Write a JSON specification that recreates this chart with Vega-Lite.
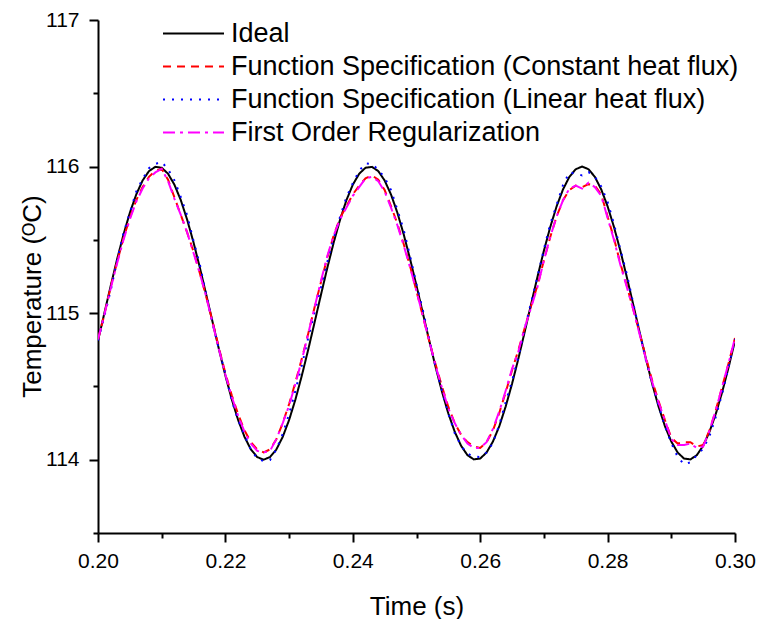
{
"$schema": "https://vega.github.io/schema/vega-lite/v6.json",
"width": 637, "height": 513,
"autosize": {"type": "none"},
"padding": {"left": 98, "top": 20, "right": 26, "bottom": 86},
"background": "white",
"config": {"view": {"stroke": null}, "font": "Liberation Sans"},
"data": {"values": [
{"s":"a","t":0.200,"v":114.813},{"s":"a","t":0.201,"v":115.000},{"s":"a","t":0.202,"v":115.187},{"s":"a","t":0.203,"v":115.368},{"s":"a","t":0.204,"v":115.536},{"s":"a","t":0.205,"v":115.685},{"s":"a","t":0.206,"v":115.809},{"s":"a","t":0.207,"v":115.905},{"s":"a","t":0.208,"v":115.969},{"s":"a","t":0.209,"v":115.998},
{"s":"a","t":0.210,"v":115.992},{"s":"a","t":0.211,"v":115.951},{"s":"a","t":0.212,"v":115.876},{"s":"a","t":0.213,"v":115.771},{"s":"a","t":0.214,"v":115.637},{"s":"a","t":0.215,"v":115.482},{"s":"a","t":0.216,"v":115.309},{"s":"a","t":0.217,"v":115.125},{"s":"a","t":0.218,"v":114.937},{"s":"a","t":0.219,"v":114.751},
{"s":"a","t":0.220,"v":114.574},{"s":"a","t":0.221,"v":114.412},{"s":"a","t":0.222,"v":114.271},{"s":"a","t":0.223,"v":114.156},{"s":"a","t":0.224,"v":114.070},{"s":"a","t":0.225,"v":114.018},{"s":"a","t":0.226,"v":114.000},{"s":"a","t":0.227,"v":114.018},{"s":"a","t":0.228,"v":114.070},{"s":"a","t":0.229,"v":114.156},
{"s":"a","t":0.230,"v":114.271},{"s":"a","t":0.231,"v":114.412},{"s":"a","t":0.232,"v":114.574},{"s":"a","t":0.233,"v":114.751},{"s":"a","t":0.234,"v":114.937},{"s":"a","t":0.235,"v":115.125},{"s":"a","t":0.236,"v":115.309},{"s":"a","t":0.237,"v":115.482},{"s":"a","t":0.238,"v":115.637},{"s":"a","t":0.239,"v":115.771},
{"s":"a","t":0.240,"v":115.876},{"s":"a","t":0.241,"v":115.951},{"s":"a","t":0.242,"v":115.992},{"s":"a","t":0.243,"v":115.998},{"s":"a","t":0.244,"v":115.969},{"s":"a","t":0.245,"v":115.905},{"s":"a","t":0.246,"v":115.809},{"s":"a","t":0.247,"v":115.685},{"s":"a","t":0.248,"v":115.536},{"s":"a","t":0.249,"v":115.368},
{"s":"a","t":0.250,"v":115.187},{"s":"a","t":0.251,"v":115.000},{"s":"a","t":0.252,"v":114.813},{"s":"a","t":0.253,"v":114.632},{"s":"a","t":0.254,"v":114.464},{"s":"a","t":0.255,"v":114.315},{"s":"a","t":0.256,"v":114.191},{"s":"a","t":0.257,"v":114.095},{"s":"a","t":0.258,"v":114.031},{"s":"a","t":0.259,"v":114.002},
{"s":"a","t":0.260,"v":114.008},{"s":"a","t":0.261,"v":114.049},{"s":"a","t":0.262,"v":114.124},{"s":"a","t":0.263,"v":114.229},{"s":"a","t":0.264,"v":114.363},{"s":"a","t":0.265,"v":114.518},{"s":"a","t":0.266,"v":114.691},{"s":"a","t":0.267,"v":114.875},{"s":"a","t":0.268,"v":115.063},{"s":"a","t":0.269,"v":115.249},
{"s":"a","t":0.270,"v":115.426},{"s":"a","t":0.271,"v":115.588},{"s":"a","t":0.272,"v":115.729},{"s":"a","t":0.273,"v":115.844},{"s":"a","t":0.274,"v":115.930},{"s":"a","t":0.275,"v":115.982},{"s":"a","t":0.276,"v":116.000},{"s":"a","t":0.277,"v":115.982},{"s":"a","t":0.278,"v":115.930},{"s":"a","t":0.279,"v":115.844},
{"s":"a","t":0.280,"v":115.729},{"s":"a","t":0.281,"v":115.588},{"s":"a","t":0.282,"v":115.426},{"s":"a","t":0.283,"v":115.249},{"s":"a","t":0.284,"v":115.063},{"s":"a","t":0.285,"v":114.875},{"s":"a","t":0.286,"v":114.691},{"s":"a","t":0.287,"v":114.518},{"s":"a","t":0.288,"v":114.363},{"s":"a","t":0.289,"v":114.229},
{"s":"a","t":0.290,"v":114.124},{"s":"a","t":0.291,"v":114.049},{"s":"a","t":0.292,"v":114.008},{"s":"a","t":0.293,"v":114.002},{"s":"a","t":0.294,"v":114.031},{"s":"a","t":0.295,"v":114.095},{"s":"a","t":0.296,"v":114.191},{"s":"a","t":0.297,"v":114.315},{"s":"a","t":0.298,"v":114.464},{"s":"a","t":0.299,"v":114.632},
{"s":"a","t":0.300,"v":114.813},

{"s":"b","t":0.200,"v":114.82},{"s":"b","t":0.201,"v":114.99},{"s":"b","t":0.202,"v":115.18},{"s":"b","t":0.203,"v":115.35},{"s":"b","t":0.204,"v":115.51},{"s":"b","t":0.205,"v":115.65},{"s":"b","t":0.206,"v":115.77},{"s":"b","t":0.207,"v":115.86},{"s":"b","t":0.208,"v":115.93},{"s":"b","t":0.209,"v":115.97},
{"s":"b","t":0.210,"v":115.985},{"s":"b","t":0.211,"v":115.91},{"s":"b","t":0.212,"v":115.79},{"s":"b","t":0.213,"v":115.67},{"s":"b","t":0.214,"v":115.55},{"s":"b","t":0.215,"v":115.42},{"s":"b","t":0.216,"v":115.27},{"s":"b","t":0.217,"v":115.11},{"s":"b","t":0.218,"v":114.94},{"s":"b","t":0.219,"v":114.76},
{"s":"b","t":0.220,"v":114.59},{"s":"b","t":0.221,"v":114.44},{"s":"b","t":0.222,"v":114.31},{"s":"b","t":0.223,"v":114.20},{"s":"b","t":0.224,"v":114.12},{"s":"b","t":0.225,"v":114.07},{"s":"b","t":0.226,"v":114.05},{"s":"b","t":0.227,"v":114.07},{"s":"b","t":0.228,"v":114.14},{"s":"b","t":0.229,"v":114.25},
{"s":"b","t":0.230,"v":114.38},{"s":"b","t":0.231,"v":114.53},{"s":"b","t":0.232,"v":114.69},{"s":"b","t":0.233,"v":114.86},{"s":"b","t":0.234,"v":115.04},{"s":"b","t":0.235,"v":115.21},{"s":"b","t":0.236,"v":115.38},{"s":"b","t":0.237,"v":115.53},{"s":"b","t":0.238,"v":115.65},{"s":"b","t":0.239,"v":115.73},
{"s":"b","t":0.240,"v":115.81},{"s":"b","t":0.241,"v":115.87},{"s":"b","t":0.242,"v":115.92},{"s":"b","t":0.243,"v":115.94},{"s":"b","t":0.244,"v":115.91},{"s":"b","t":0.245,"v":115.84},{"s":"b","t":0.246,"v":115.73},{"s":"b","t":0.247,"v":115.61},{"s":"b","t":0.248,"v":115.47},{"s":"b","t":0.249,"v":115.32},
{"s":"b","t":0.250,"v":115.15},{"s":"b","t":0.251,"v":114.98},{"s":"b","t":0.252,"v":114.81},{"s":"b","t":0.253,"v":114.65},{"s":"b","t":0.254,"v":114.50},{"s":"b","t":0.255,"v":114.36},{"s":"b","t":0.256,"v":114.25},{"s":"b","t":0.257,"v":114.17},{"s":"b","t":0.258,"v":114.12},{"s":"b","t":0.259,"v":114.09},
{"s":"b","t":0.260,"v":114.08},{"s":"b","t":0.261,"v":114.12},{"s":"b","t":0.262,"v":114.20},{"s":"b","t":0.263,"v":114.32},{"s":"b","t":0.264,"v":114.46},{"s":"b","t":0.265,"v":114.61},{"s":"b","t":0.266,"v":114.75},{"s":"b","t":0.267,"v":114.90},{"s":"b","t":0.268,"v":115.05},{"s":"b","t":0.269,"v":115.19},
{"s":"b","t":0.270,"v":115.36},{"s":"b","t":0.271,"v":115.52},{"s":"b","t":0.272,"v":115.66},{"s":"b","t":0.273,"v":115.77},{"s":"b","t":0.274,"v":115.84},{"s":"b","t":0.275,"v":115.87},{"s":"b","t":0.276,"v":115.86},{"s":"b","t":0.277,"v":115.88},{"s":"b","t":0.278,"v":115.87},{"s":"b","t":0.279,"v":115.81},
{"s":"b","t":0.280,"v":115.66},{"s":"b","t":0.281,"v":115.51},{"s":"b","t":0.282,"v":115.34},{"s":"b","t":0.283,"v":115.19},{"s":"b","t":0.284,"v":115.03},{"s":"b","t":0.285,"v":114.87},{"s":"b","t":0.286,"v":114.70},{"s":"b","t":0.287,"v":114.54},{"s":"b","t":0.288,"v":114.40},{"s":"b","t":0.289,"v":114.27},
{"s":"b","t":0.290,"v":114.15},{"s":"b","t":0.291,"v":114.11},{"s":"b","t":0.292,"v":114.12},{"s":"b","t":0.293,"v":114.12},{"s":"b","t":0.294,"v":114.09},{"s":"b","t":0.295,"v":114.10},{"s":"b","t":0.296,"v":114.20},{"s":"b","t":0.297,"v":114.34},{"s":"b","t":0.298,"v":114.50},{"s":"b","t":0.299,"v":114.66},
{"s":"b","t":0.300,"v":114.83},

{"s":"c","t":0.200,"v":114.813},{"s":"c","t":0.201,"v":114.980},{"s":"c","t":0.202,"v":115.157},{"s":"c","t":0.203,"v":115.358},{"s":"c","t":0.204,"v":115.546},{"s":"c","t":0.205,"v":115.685},{"s":"c","t":0.206,"v":115.829},{"s":"c","t":0.207,"v":115.915},{"s":"c","t":0.208,"v":115.989},{"s":"c","t":0.209,"v":116.018},
{"s":"c","t":0.210,"v":116.032},{"s":"c","t":0.211,"v":115.981},{"s":"c","t":0.212,"v":115.906},{"s":"c","t":0.213,"v":115.791},{"s":"c","t":0.214,"v":115.667},{"s":"c","t":0.215,"v":115.492},{"s":"c","t":0.216,"v":115.329},{"s":"c","t":0.217,"v":115.125},{"s":"c","t":0.218,"v":114.927},{"s":"c","t":0.219,"v":114.751},
{"s":"c","t":0.220,"v":114.584},{"s":"c","t":0.221,"v":114.402},{"s":"c","t":0.222,"v":114.271},{"s":"c","t":0.223,"v":114.166},{"s":"c","t":0.224,"v":114.070},{"s":"c","t":0.225,"v":114.008},{"s":"c","t":0.226,"v":113.990},{"s":"c","t":0.227,"v":113.998},{"s":"c","t":0.228,"v":114.070},{"s":"c","t":0.229,"v":114.176},
{"s":"c","t":0.230,"v":114.311},{"s":"c","t":0.231,"v":114.472},{"s":"c","t":0.232,"v":114.644},{"s":"c","t":0.233,"v":114.831},{"s":"c","t":0.234,"v":115.007},{"s":"c","t":0.235,"v":115.175},{"s":"c","t":0.236,"v":115.349},{"s":"c","t":0.237,"v":115.512},{"s":"c","t":0.238,"v":115.657},{"s":"c","t":0.239,"v":115.791},
{"s":"c","t":0.240,"v":115.886},{"s":"c","t":0.241,"v":115.971},{"s":"c","t":0.242,"v":116.022},{"s":"c","t":0.243,"v":116.018},{"s":"c","t":0.244,"v":115.979},{"s":"c","t":0.245,"v":115.925},{"s":"c","t":0.246,"v":115.839},{"s":"c","t":0.247,"v":115.705},{"s":"c","t":0.248,"v":115.566},{"s":"c","t":0.249,"v":115.388},
{"s":"c","t":0.250,"v":115.197},{"s":"c","t":0.251,"v":115.020},{"s":"c","t":0.252,"v":114.823},{"s":"c","t":0.253,"v":114.632},{"s":"c","t":0.254,"v":114.474},{"s":"c","t":0.255,"v":114.315},{"s":"c","t":0.256,"v":114.181},{"s":"c","t":0.257,"v":114.095},{"s":"c","t":0.258,"v":114.041},{"s":"c","t":0.259,"v":114.022},
{"s":"c","t":0.260,"v":114.018},{"s":"c","t":0.261,"v":114.049},{"s":"c","t":0.262,"v":114.114},{"s":"c","t":0.263,"v":114.239},{"s":"c","t":0.264,"v":114.393},{"s":"c","t":0.265,"v":114.538},{"s":"c","t":0.266,"v":114.701},{"s":"c","t":0.267,"v":114.895},{"s":"c","t":0.268,"v":115.073},{"s":"c","t":0.269,"v":115.249},
{"s":"c","t":0.270,"v":115.436},{"s":"c","t":0.271,"v":115.608},{"s":"c","t":0.272,"v":115.739},{"s":"c","t":0.273,"v":115.874},{"s":"c","t":0.274,"v":115.960},{"s":"c","t":0.275,"v":115.952},{"s":"c","t":0.276,"v":115.940},{"s":"c","t":0.277,"v":115.962},{"s":"c","t":0.278,"v":115.930},{"s":"c","t":0.279,"v":115.864},
{"s":"c","t":0.280,"v":115.759},{"s":"c","t":0.281,"v":115.608},{"s":"c","t":0.282,"v":115.436},{"s":"c","t":0.283,"v":115.269},{"s":"c","t":0.284,"v":115.073},{"s":"c","t":0.285,"v":114.875},{"s":"c","t":0.286,"v":114.681},{"s":"c","t":0.287,"v":114.518},{"s":"c","t":0.288,"v":114.373},{"s":"c","t":0.289,"v":114.229},
{"s":"c","t":0.290,"v":114.114},{"s":"c","t":0.291,"v":114.019},{"s":"c","t":0.292,"v":113.968},{"s":"c","t":0.293,"v":113.982},{"s":"c","t":0.294,"v":114.031},{"s":"c","t":0.295,"v":114.075},{"s":"c","t":0.296,"v":114.161},{"s":"c","t":0.297,"v":114.295},{"s":"c","t":0.298,"v":114.454},{"s":"c","t":0.299,"v":114.632},
{"s":"c","t":0.300,"v":114.823},

{"s":"d","t":0.200,"v":114.82},{"s":"d","t":0.201,"v":114.99},{"s":"d","t":0.202,"v":115.17},{"s":"d","t":0.203,"v":115.34},{"s":"d","t":0.204,"v":115.50},{"s":"d","t":0.205,"v":115.64},{"s":"d","t":0.206,"v":115.76},{"s":"d","t":0.207,"v":115.85},{"s":"d","t":0.208,"v":115.92},{"s":"d","t":0.209,"v":115.96},
{"s":"d","t":0.210,"v":115.985},{"s":"d","t":0.211,"v":115.90},{"s":"d","t":0.212,"v":115.78},{"s":"d","t":0.213,"v":115.67},{"s":"d","t":0.214,"v":115.55},{"s":"d","t":0.215,"v":115.41},{"s":"d","t":0.216,"v":115.27},{"s":"d","t":0.217,"v":115.11},{"s":"d","t":0.218,"v":114.93},{"s":"d","t":0.219,"v":114.75},
{"s":"d","t":0.220,"v":114.58},{"s":"d","t":0.221,"v":114.43},{"s":"d","t":0.222,"v":114.30},{"s":"d","t":0.223,"v":114.19},{"s":"d","t":0.224,"v":114.11},{"s":"d","t":0.225,"v":114.06},{"s":"d","t":0.226,"v":114.05},{"s":"d","t":0.227,"v":114.06},{"s":"d","t":0.228,"v":114.14},{"s":"d","t":0.229,"v":114.25},
{"s":"d","t":0.230,"v":114.37},{"s":"d","t":0.231,"v":114.52},{"s":"d","t":0.232,"v":114.68},{"s":"d","t":0.233,"v":114.86},{"s":"d","t":0.234,"v":115.04},{"s":"d","t":0.235,"v":115.22},{"s":"d","t":0.236,"v":115.39},{"s":"d","t":0.237,"v":115.53},{"s":"d","t":0.238,"v":115.64},{"s":"d","t":0.239,"v":115.72},
{"s":"d","t":0.240,"v":115.80},{"s":"d","t":0.241,"v":115.86},{"s":"d","t":0.242,"v":115.92},{"s":"d","t":0.243,"v":115.93},{"s":"d","t":0.244,"v":115.90},{"s":"d","t":0.245,"v":115.83},{"s":"d","t":0.246,"v":115.72},{"s":"d","t":0.247,"v":115.60},{"s":"d","t":0.248,"v":115.46},{"s":"d","t":0.249,"v":115.31},
{"s":"d","t":0.250,"v":115.15},{"s":"d","t":0.251,"v":114.98},{"s":"d","t":0.252,"v":114.81},{"s":"d","t":0.253,"v":114.64},{"s":"d","t":0.254,"v":114.49},{"s":"d","t":0.255,"v":114.35},{"s":"d","t":0.256,"v":114.25},{"s":"d","t":0.257,"v":114.17},{"s":"d","t":0.258,"v":114.11},{"s":"d","t":0.259,"v":114.08},
{"s":"d","t":0.260,"v":114.08},{"s":"d","t":0.261,"v":114.12},{"s":"d","t":0.262,"v":114.21},{"s":"d","t":0.263,"v":114.33},{"s":"d","t":0.264,"v":114.47},{"s":"d","t":0.265,"v":114.62},{"s":"d","t":0.266,"v":114.74},{"s":"d","t":0.267,"v":114.90},{"s":"d","t":0.268,"v":115.04},{"s":"d","t":0.269,"v":115.18},
{"s":"d","t":0.270,"v":115.36},{"s":"d","t":0.271,"v":115.52},{"s":"d","t":0.272,"v":115.66},{"s":"d","t":0.273,"v":115.77},{"s":"d","t":0.274,"v":115.85},{"s":"d","t":0.275,"v":115.87},{"s":"d","t":0.276,"v":115.85},{"s":"d","t":0.277,"v":115.89},{"s":"d","t":0.278,"v":115.86},{"s":"d","t":0.279,"v":115.80},
{"s":"d","t":0.280,"v":115.65},{"s":"d","t":0.281,"v":115.50},{"s":"d","t":0.282,"v":115.33},{"s":"d","t":0.283,"v":115.18},{"s":"d","t":0.284,"v":115.03},{"s":"d","t":0.285,"v":114.86},{"s":"d","t":0.286,"v":114.69},{"s":"d","t":0.287,"v":114.53},{"s":"d","t":0.288,"v":114.39},{"s":"d","t":0.289,"v":114.27},
{"s":"d","t":0.290,"v":114.14},{"s":"d","t":0.291,"v":114.10},{"s":"d","t":0.292,"v":114.10},{"s":"d","t":0.293,"v":114.11},{"s":"d","t":0.294,"v":114.08},{"s":"d","t":0.295,"v":114.09},{"s":"d","t":0.296,"v":114.20},{"s":"d","t":0.297,"v":114.34},{"s":"d","t":0.298,"v":114.50},{"s":"d","t":0.299,"v":114.66},
{"s":"d","t":0.300,"v":114.83}
]},
"mark": {"type": "line", "strokeWidth": 2, "clip": true},
"encoding": {
  "x": {"field": "t", "type": "quantitative",
    "scale": {"domain": [0.2, 0.3], "nice": false, "zero": false},
    "axis": {"values": [0.2,0.21,0.22,0.23,0.24,0.25,0.26,0.27,0.28,0.29,0.3], "format": ".2f",
      "labelExpr": "round(datum.value*100) % 2 === 0 ? datum.label : ''",
      "tickSize": {"condition": {"test": "round(datum.value*100) % 2 === 0", "value": 9}, "value": 5},
      "title": "Time (s)", "grid": false, "domainColor": "black", "domainWidth": 2, "tickColor": "black", "tickWidth": 2,
      "labelFontSize": 21, "labelColor": "black", "labelPadding": 8, "labelFlush": false, "labelOverlap": false,
      "titleFontSize": 26, "titleFontWeight": "normal", "titleColor": "black", "titleBaseline": "alphabetic", "titleY": 81}},
  "y": {"field": "v", "type": "quantitative",
    "scale": {"domain": [113.5, 117], "nice": false, "zero": false},
    "axis": {"values": [113.5,114,114.5,115,115.5,116,116.5,117], "format": ".0f",
      "labelExpr": "datum.value % 1 === 0 ? datum.label : ''",
      "tickSize": {"condition": {"test": "datum.value % 1 === 0", "value": 9}, "value": 5},
      "title": "Temperature (ᴼC)", "grid": false, "domainColor": "black", "domainWidth": 2, "tickColor": "black", "tickWidth": 2,
      "labelFontSize": 21, "labelColor": "black", "labelPadding": 10, "labelOverlap": false, "labelFlush": false,
      "titleFontSize": 26, "titleFontWeight": "normal", "titleColor": "black", "titleAngle": 270, "titleAlign": "center", "titleBaseline": "alphabetic", "titleX": -58, "titleY": 276}},
  "color": {"field": "s", "type": "nominal",
    "scale": {"domain": ["a","b","c","d"], "range": ["#000000","#ff0000","#0000ff","#ff00ff"]},
    "legend": {"orient": "none", "legendX": 64, "legendY": 0, "title": null, "symbolType": "stroke", "symbolSize": 3721,
      "symbolStrokeWidth": 2, "labelFontSize": 27, "labelColor": "black", "labelOffset": 6, "rowPadding": 5, "clipHeight": 27, "padding": 0,
      "labelLimit": 700,
      "labelExpr": "{'a':'Ideal','b':'Function Specification (Constant heat flux)','c':'Function Specification (Linear heat flux)','d':'First Order Regularization'}[datum.value]"}},
  "strokeDash": {"field": "s", "type": "nominal",
    "scale": {"domain": ["a","b","c","d"], "range": [[1,0],[8,6],[2,7],[12,5,3,5]]},
    "legend": {"orient": "none", "legendX": 64, "legendY": 0, "title": null, "symbolType": "stroke", "symbolSize": 3721,
      "symbolStrokeWidth": 2, "labelFontSize": 27, "labelColor": "black", "labelOffset": 6, "rowPadding": 5, "clipHeight": 27, "padding": 0,
      "labelLimit": 700,
      "labelExpr": "{'a':'Ideal','b':'Function Specification (Constant heat flux)','c':'Function Specification (Linear heat flux)','d':'First Order Regularization'}[datum.value]"}}
}
}
